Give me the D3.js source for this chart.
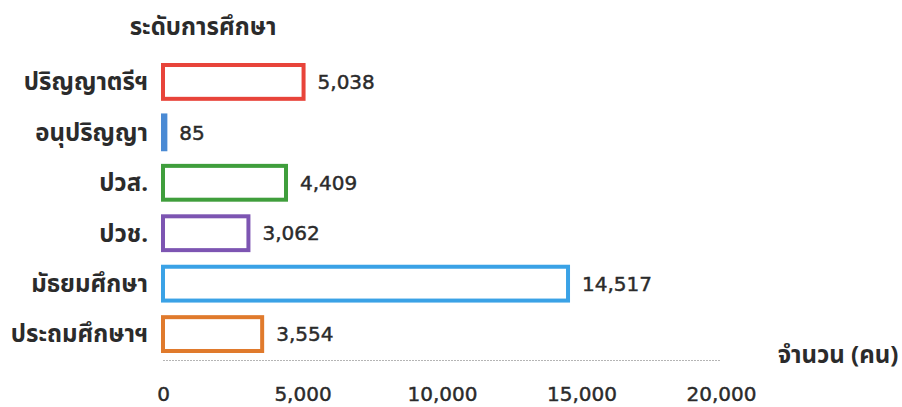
<!DOCTYPE html>
<html><head><meta charset="utf-8">
<script src="https://cdn.jsdelivr.net/npm/d3@7"></script>
<style>
html,body{margin:0;padding:0;background:#fff;}
svg text{fill:#2b2b2b;}
.th{font-family:"Noto Sans Thai",Tahoma,"Noto Sans",sans-serif;font-weight:700;}
.num{font-family:"DejaVu Sans",Verdana,sans-serif;stroke:#2b2b2b;stroke-width:0.45px;}
</style></head>
<body>
<svg id="chart" width="902" height="407"></svg>
<script>
const categories = ["ปริญญาตรีฯ","อนุปริญญา","ปวส.","ปวช.","มัธยมศึกษา","ประถมศึกษาฯ"];
const values = [5038, 85, 4409, 3062, 14517, 3554];
const colors = ["#e8443a","#4a8ad4","#3f9e3c","#7d55b2","#3aa2e6","#e07a2c"];
const tickValues = [0, 5000, 10000, 15000, 20000];
const title = "ระดับการศึกษา";
const axisTitle = "จำนวน (คน)";

const svg = d3.select("#chart");
const x = d3.scaleLinear().domain([0, 20000]).range([163, 721]);
const y = d3.scaleBand().domain(categories).range([56.7, 359.3]).paddingInner(0.25).paddingOuter(0.125);

svg.append("text").attr("class","th").attr("x", 203).attr("y", 35).attr("text-anchor","middle")
  .attr("font-size", 24).text(title);

// baseline axis
svg.append("line").attr("x1", x(0)).attr("x2", x(20000)).attr("y1", 360.5).attr("y2", 360.5)
  .attr("stroke", "#b5b5b5").attr("stroke-width", 1.2).attr("stroke-dasharray","2,1");

const sw = 4;
const rows = svg.append("g").selectAll("g").data(categories).join("g");
rows.append("rect")
  .attr("x", x(0))
  .attr("y", d => y(d) + sw/2)
  .attr("width", (d,i) => x(values[i]) - x(0))
  .attr("height", y.bandwidth() - sw)
  .attr("fill", "#fff")
  .attr("stroke", (d,i) => colors[i])
  .attr("stroke-width", sw);

rows.append("text").attr("class","th")
  .attr("x", 148).attr("y", d => y(d) + y.bandwidth()/2)
  .attr("dy", "0.35em").attr("text-anchor", "end")
  .attr("font-size", 24).text(d => d);

rows.append("text").attr("class","num")
  .attr("x", (d,i) => x(values[i]) + 2 + 12)
  .attr("y", d => y(d) + y.bandwidth()/2)
  .attr("dy", "0.36em")
  .attr("font-size", 20)
  .text((d,i) => d3.format(",")(values[i]));

const axis = d3.axisBottom(x).tickValues(tickValues).tickSize(0).tickFormat(d3.format(","));
const ag = svg.append("g").attr("transform", "translate(0,384)").call(axis);
ag.select(".domain").remove();
ag.selectAll("text").attr("class","num").attr("font-size", 20).attr("fill","#2b2b2b");

svg.append("text").attr("class","th").attr("x", 838).attr("y", 363).attr("text-anchor","middle")
  .attr("font-size", 24).text(axisTitle);
</script>
</body></html>
